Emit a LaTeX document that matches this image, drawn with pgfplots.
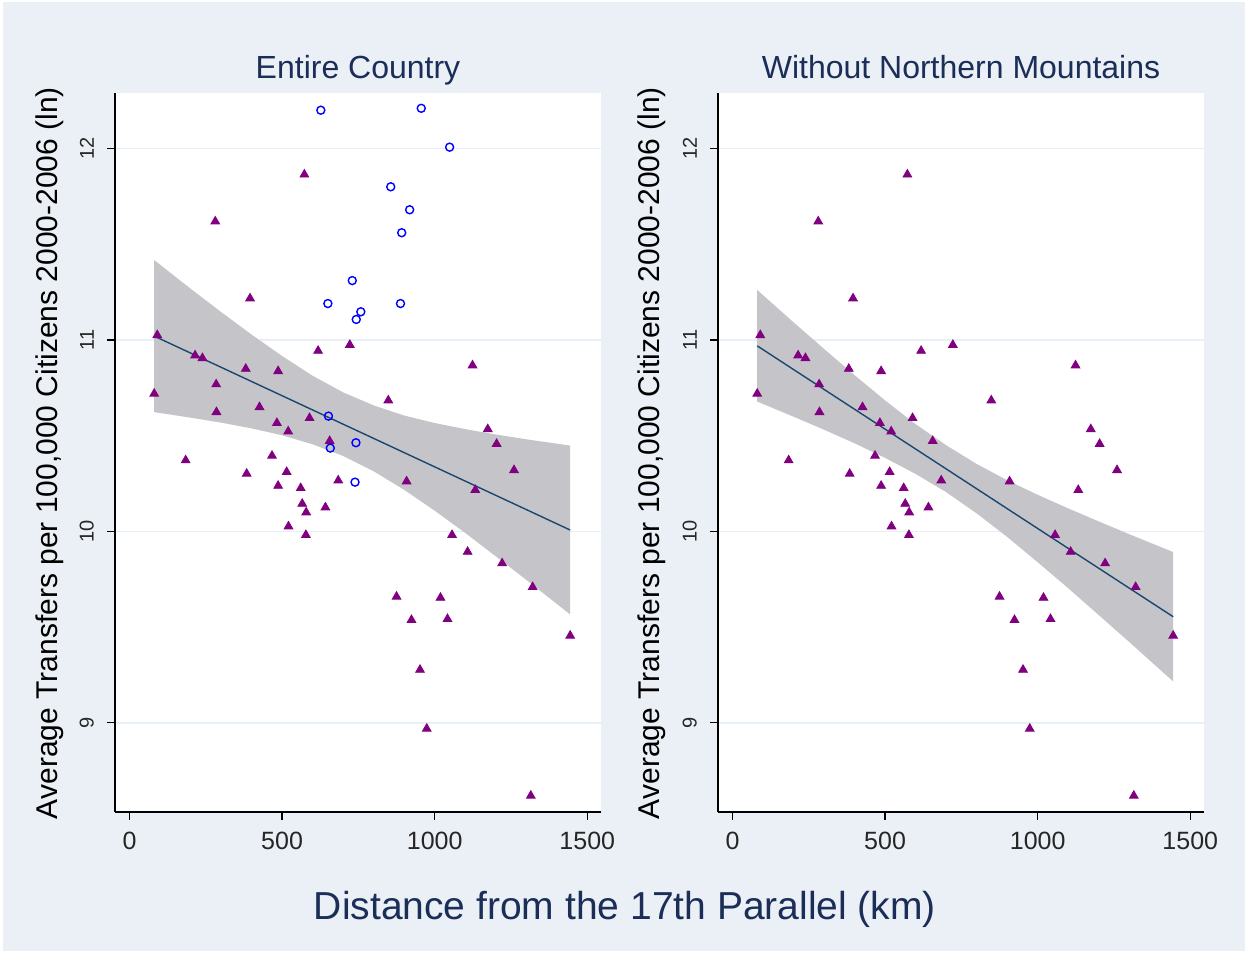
\documentclass[border=0pt]{standalone}
\usepackage{fontspec}
\setmainfont{Liberation Sans}
\usepackage{pgfplots}
\usepackage{pgfplotstable}
\pgfplotsset{compat=1.18}

\definecolor{bgpanel}{RGB}{235,240,246}
\definecolor{titlenavy}{RGB}{26,46,88}
\definecolor{fitline}{RGB}{26,71,111}
\definecolor{ciband}{RGB}{197,196,201}
\definecolor{gridblue}{RGB}{232,239,247}
\definecolor{ptpurple}{RGB}{128,0,128}

% districts south of the mountains (triangles)
\pgfplotstableread{
x y
573 11.864
281 11.619
395 11.217
91 11.025
722 10.974
618 10.943
1124 10.867
215 10.919
239 10.905
381 10.849
487 10.837
284 10.768
81 10.719
848 10.684
426 10.649
285 10.623
590 10.592
483 10.566
520 10.522
1174 10.534
1203 10.457
656 10.472
184 10.371
467 10.395
1260 10.320
384 10.301
515 10.310
684 10.266
908 10.261
487 10.238
561 10.226
1133 10.216
566 10.144
579 10.099
642 10.125
521 10.026
578 9.981
1057 9.981
1108 9.893
1221 9.833
1321 9.709
875 9.659
1019 9.653
924 9.537
1042 9.542
1444 9.455
952 9.277
974 8.969
1315 8.619
}\tri

% northern mountains (hollow circles)
\pgfplotstableread{
x y
627 12.200
956 12.210
1049 12.007
856 11.800
918 11.680
892 11.560
730 11.310
650 11.190
888 11.190
758 11.147
743 11.107
652 10.602
742 10.463
658 10.435
739 10.257
}\mtn

\pgfplotsset{
  panel/.style={
    scale only axis, width=243pt, height=359.5pt,
    xmin=-47.5, xmax=1545, ymin=8.534, ymax=12.29,
    axis x line*=bottom, axis y line*=left,
    axis line style={-, black, line width=0.6pt},
    axis background/.style={fill=white},
    xtick={0,500,1000,1500}, xticklabels={0,500,1000,1500},
    ytick={9,10,11,12}, yticklabels={9,10,11,12},
    tick align=outside, major tick length=4pt,
    tick style={black, line width=0.6pt},
    ymajorgrids, grid style={gridblue, line width=0.8pt},
    xticklabel shift=2.5pt, yticklabel shift=3pt,
    xticklabel style={font=\fontsize{12.5}{14}\selectfont, text=black!85},
    yticklabel style={font=\fontsize{10}{12}\selectfont, text=black!85, rotate=90, anchor=south},
  },
  tris/.style={only marks, mark=triangle*, mark size=2.5pt,
    mark options={fill=ptpurple, draw=ptpurple}},
}

\begin{document}
\begin{tikzpicture}
\fill[white] (0,0) rectangle (624pt,476.5pt);
\fill[bgpanel] (1.5pt,1pt) rectangle (622.5pt,475.5pt);

\begin{axis}[panel, at={(57.5pt,70.5pt)}, anchor=south west]
\addplot[fill=ciband, draw=none] coordinates {
 (81,11.417)(200,11.268)(300,11.146)(400,11.028)(500,10.916)(600,10.813)(700,10.726)
 (800,10.658)(900,10.605)(1000,10.566)(1100,10.534)(1200,10.506)(1300,10.481)(1444,10.448)
 (1444,9.566)(1300,9.747)(1200,9.870)(1100,9.992)(1000,10.108)(900,10.217)(800,10.314)
 (700,10.394)(600,10.455)(500,10.502)(400,10.538)(300,10.568)(200,10.594)(81,10.623)
 (81,11.417)};
\addplot[fitline, line width=0.7pt] coordinates {(81,11.020)(1444,10.007)};
\addplot[tris] table {\tri};
\addplot[only marks, mark=o, mark size=2pt, mark options={draw=blue, line width=0.7pt}] table {\mtn};
\end{axis}

\begin{axis}[panel, at={(359pt,70.5pt)}, anchor=south west]
\addplot[fill=ciband, draw=none] coordinates {
 (81,11.261)(200,11.092)(300,10.953)(400,10.816)(500,10.684)(600,10.560)(700,10.450)
 (800,10.352)(900,10.267)(1000,10.191)(1100,10.120)(1200,10.052)(1300,9.985)(1444,9.892)
 (1444,9.216)(1300,9.422)(1200,9.563)(1100,9.703)(1000,9.839)(900,9.971)(800,10.094)
 (700,10.205)(600,10.300)(500,10.384)(400,10.460)(300,10.531)(200,10.599)(81,10.678)
 (81,11.261)};
\addplot[fitline, line width=0.7pt] coordinates {(81,10.969)(1444,9.554)};
\addplot[tris] table {\tri};
\end{axis}

\node[anchor=base, font=\fontsize{16}{19}\selectfont, text=titlenavy] at (179pt,437pt) {Entire Country};
\node[anchor=base, font=\fontsize{16}{19}\selectfont, text=titlenavy] at (480.5pt,437pt) {Without Northern Mountains};
\node[rotate=90, font=\fontsize{15}{18}\selectfont] at (25pt,250pt) {Average Transfers per 100,000 Citizens 2000-2006 (ln)};
\node[rotate=90, font=\fontsize{15}{18}\selectfont] at (326pt,250pt) {Average Transfers per 100,000 Citizens 2000-2006 (ln)};
\node[anchor=base, font=\fontsize{19.5}{23}\selectfont, text=titlenavy] at (312.5pt,16.5pt) {Distance from the 17th Parallel (km)};
\end{tikzpicture}
\end{document}
